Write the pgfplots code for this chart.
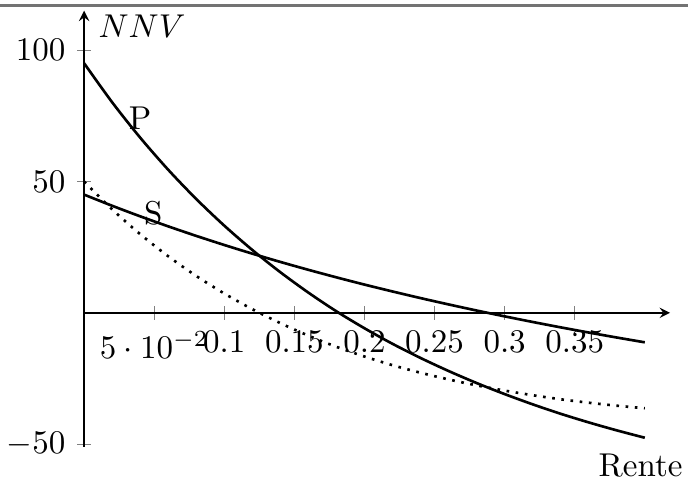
\documentclass[border=0pt]{standalone}
\usepackage{pgfplots}
\pgfplotsset{compat=1.18}
\usetikzlibrary{calc}
\begin{document}
\begin{tikzpicture}
\begin{axis}[name=ax, scale only axis, width=177.6pt, height=132.2pt,
  axis lines=middle, xmin=0, xmax=0.418, ymin=-51, ymax=115,
  xtick={0.05,0.1,0.15,0.2,0.25,0.3,0.35}, ytick={-50,50,100},
  clip=false]
\addplot[thick, smooth, black] coordinates {
(0,95) (0.02,80.15) (0.04,66.69) (0.06,54.46) (0.08,43.33) (0.10,33.19)
(0.12,23.93) (0.14,15.46) (0.16,7.70) (0.18,0.58) (0.20,-5.86) (0.22,-11.78)
(0.24,-17.17) (0.26,-22.13) (0.28,-26.71) (0.30,-30.92) (0.32,-34.82)
(0.34,-38.42) (0.36,-41.70) (0.38,-44.73) (0.40,-47.54)};
\addplot[thick, smooth, black] coordinates {
(0,45) (0.02,40.76) (0.04,36.74) (0.06,32.92) (0.08,29.29) (0.10,25.83)
(0.12,22.53) (0.14,19.38) (0.16,16.38) (0.18,13.51) (0.20,10.76) (0.22,8.14)
(0.24,5.62) (0.26,3.21) (0.28,0.89) (0.30,-1.33) (0.32,-3.47) (0.34,-5.52)
(0.36,-7.49) (0.38,-9.39) (0.40,-11.22)};
\addplot[thick, smooth, dotted, black] coordinates {
(0,50) (0.02,39.39) (0.04,29.95) (0.06,21.54) (0.08,14.04) (0.10,7.36)
(0.12,1.40) (0.14,-3.92) (0.16,-8.68) (0.18,-12.93) (0.20,-16.62) (0.22,-19.92)
(0.24,-22.79) (0.26,-25.34) (0.28,-27.60) (0.30,-29.59) (0.32,-31.35)
(0.34,-32.90) (0.36,-34.21) (0.38,-35.34) (0.40,-36.32)};
\node at (axis cs:0.040,74) {P};
\node at (axis cs:0.0494,38) {S};
\node[anchor=west] at (axis cs:0.002,109) {$NNV$};
\node at (axis cs:0.397,-58) {Rente};
\end{axis}
\draw[black!55, line width=0.9pt] ($(ax.north west)+(-25.5pt,1.6pt)$) -- ($(ax.north east)+(5.45pt,1.6pt)$);
\pgfresetboundingbox
\path[use as bounding box] ($(ax.south west)+(-25.5pt,-11.5pt)$) rectangle ($(ax.north east)+(5.45pt,3.25pt)$);
\end{tikzpicture}
\end{document}
